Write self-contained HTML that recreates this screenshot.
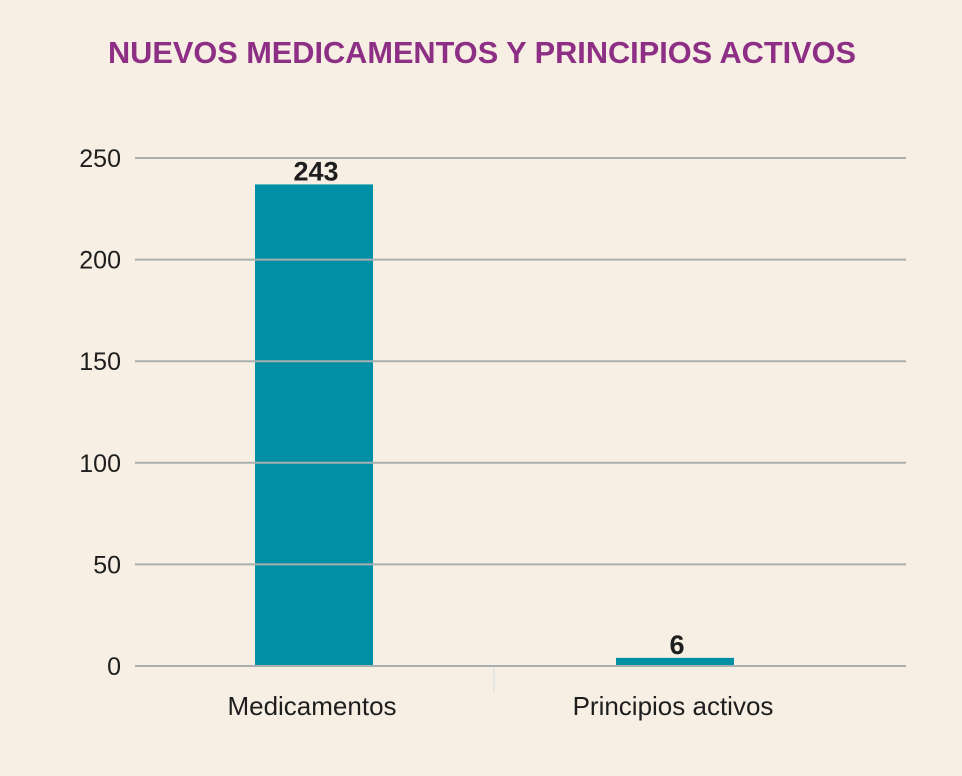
<!DOCTYPE html>
<html><head><meta charset="utf-8">
<style>
html,body{margin:0;padding:0;background:#F7EFE3;}
svg{display:block;}
</style></head>
<body>
<svg id="chart" width="962" height="776" viewBox="0 0 962 776" xmlns="http://www.w3.org/2000/svg">
<rect x="0" y="0" width="962" height="776" fill="#F7EFE3"/>
<text x="482" y="63" text-anchor="middle" font-family="Liberation Sans, sans-serif" font-weight="bold" font-size="31" fill="#8E2F86" textLength="748" lengthAdjust="spacingAndGlyphs">NUEVOS MEDICAMENTOS Y PRINCIPIOS ACTIVOS</text>
<g id="bars"></g>
<g id="grid"></g>
<g id="labels"></g>
<line x1="494" y1="668" x2="494" y2="692" stroke="#D8DCDC" stroke-width="1"/>
</svg>
<script>
const categories = ["Medicamentos", "Principios activos"];
const values = [237, 4];
const valueLabels = ["243", "6"];
const yTicks = [0, 50, 100, 150, 200, 250];

const NS = "http://www.w3.org/2000/svg";
const x0 = 135, x1 = 906, yZero = 666, yTop = 158, yMax = 250;
const yScale = v => yZero - (v / yMax) * (yZero - yTop);
const xCenter = i => 314 + i * 361;
const barW = 118;

const gBars = document.getElementById("bars");
const gGrid = document.getElementById("grid");
const gLabels = document.getElementById("labels");

function mk(tag, attrs) {
  const el = document.createElementNS(NS, tag);
  for (const k in attrs) el.setAttribute(k, attrs[k]);
  return el;
}

values.forEach((v, i) => {
  const cx = xCenter(i);
  const r = mk("rect", {x: cx - barW / 2, y: yScale(v), width: barW, height: yZero - yScale(v), fill: "#0090A6"});
  
  
  gBars.appendChild(r);

  const t = mk("text", {x: cx + 2, y: yScale(v) - 4, "text-anchor": "middle", "font-family": "Liberation Sans, sans-serif", "font-weight": "bold", "font-size": "27", fill: "#1E1E1E"});
  t.textContent = valueLabels[i];
  
  
  gLabels.appendChild(t);

  const c = mk("text", {x: cx - 2, y: 715, "text-anchor": "middle", "font-family": "Liberation Sans, sans-serif", "font-size": "26", fill: "#1E1E1E"});
  c.textContent = categories[i];
  
  
  gLabels.appendChild(c);
});

yTicks.forEach(t => {
  const y = yScale(t);
  const l = mk("line", {x1: x0, x2: x1, y1: y, y2: y, stroke: "#A8AFB0", "stroke-width": 2});
  
  
  gGrid.appendChild(l);
  const tx = mk("text", {x: 121, y: y + 9, "text-anchor": "end", "font-family": "Liberation Sans, sans-serif", "font-size": "25", fill: "#1E1E1E"});
  tx.textContent = t;
  
  
  gLabels.appendChild(tx);
});
</script>
</body></html>
